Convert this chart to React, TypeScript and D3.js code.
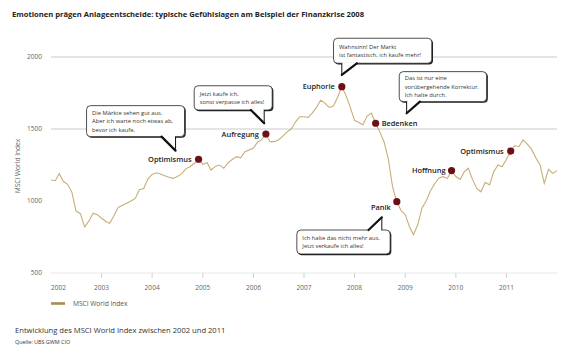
import React from 'react';
import * as d3 from 'd3';

// MSCI World Index, monthly, Jan 2002 .. Jan 2012
const msciValues = [
  1146, 1141, 1190, 1135, 1116, 1060, 930, 912, 820, 860, 915, 905,
  880, 858, 845, 900, 955, 970, 985, 1000, 1018, 1078, 1087, 1152,
  1185, 1196, 1188, 1175, 1165, 1157, 1170, 1188, 1225, 1238, 1262, 1290,
  1255, 1266, 1215, 1240, 1250, 1227, 1265, 1288, 1308, 1300, 1342, 1355,
  1368, 1410, 1424, 1465, 1412, 1412, 1424, 1450, 1480, 1500, 1550, 1585,
  1585, 1580, 1610, 1650, 1700, 1680, 1650, 1660, 1720, 1794, 1730, 1650,
  1560, 1545, 1530, 1590, 1610, 1540, 1480, 1410, 1290, 1100, 995, 935,
  905, 820, 766, 835, 950, 1000, 1070, 1120, 1160, 1169, 1157, 1211,
  1170, 1150, 1200, 1227, 1150, 1087, 1064, 1130, 1111, 1203, 1250, 1238,
  1290, 1347, 1385, 1377, 1424, 1395, 1360, 1300, 1250, 1123, 1220, 1192,
  1211,
];
const months = msciValues.map((_, i) => new Date(2002, i, 1));

const yearTicks = ['2002', '2003', '2004', '2005', '2006', '2007', '2008', '2009', '2010', '2011'];
const yTicks = [500, 1000, 1500, 2000];
const gridValues = [1500, 2000];

// moods: month index on the series + label
const moodIndex = [35, 51, 69, 77, 82, 95, 109];
const moodLabels = ['Optimismus', 'Aufregung', 'Euphorie', 'Bedenken', 'Panik', 'Hoffnung', 'Optimismus'];
const quoteLines: (string[] | null)[] = [
  ['Die Märkte sehen gut aus.', 'Aber ich warte noch etwas ab,', 'bevor ich kaufe.'],
  ['Jetzt kaufe ich,', 'sonst verpasse ich alles!'],
  ['Wahnsinn! Der Markt', 'ist fantastisch, ich kaufe mehr!'],
  ['Das ist nur eine', 'vorübergehende Korrektur.', 'Ich halte durch.'],
  ['Ich halte das nicht mehr aus.', 'Jetzt verkaufe ich alles!'],
  null,
  null,
];

// layout of labels and bubbles, relative to each dot
const labelLayout = [
  { dx: -7, dy: 0, anchor: 'end' },
  { dx: -7, dy: 0, anchor: 'end' },
  { dx: -7, dy: 0, anchor: 'end' },
  { dx: 6, dy: 0, anchor: 'start' },
  { dx: -16, dy: 6, anchor: 'middle' },
  { dx: -6, dy: 0, anchor: 'end' },
  { dx: -7, dy: 0, anchor: 'end' },
];
const bubbleLayout = [
  { bx: -112, by: -53.6, w: 98, h: 31, diagX: -37, vertX: -23, tipY: -8.6 },
  { bx: -71.7, by: -48.3, w: 78, h: 24.3, diagX: -15, vertX: -1.7, tipY: -10.7 },
  { bx: -8.3, by: -48.4, w: 98.3, h: 25, diagX: 15, vertX: 0, tipY: -11.7 },
  { bx: 23.6, by: -51.6, w: 87.4, h: 30, diagX: 44.3, vertX: 31, tipY: -10 },
  { bx: -100, by: 28.3, w: 93.3, h: 24, diagX: -28.3, vertX: -15, tipY: 15.6 },
];

const W = 580;
const H = 358;
const font = '"Open Sans", "DejaVu Sans", sans-serif';

export default function App() {
  const x = d3.scaleTime().domain([new Date(2002, 0, 1), new Date(2012, 0, 1)]).range([51, 557]);
  const y = d3.scaleLinear().domain([500, 2000]).range([273, 57]);
  const line = d3.line<number>().x((_, i) => x(months[i])).y((d) => y(d));

  return (
    <svg width={W} height={H} style={{ position: 'absolute', left: 0, top: 0, background: '#fff' }} fontFamily={font}>
      <text x={12} y={17} fontSize={7.6} fontWeight={700} fill="#222">
        Emotionen prägen Anlageentscheide: typische Gefühlslagen am Beispiel der Finanzkrise 2008
      </text>

      {gridValues.map((v) => (
        <line key={v} x1={51} x2={557} y1={y(v)} y2={y(v)} stroke="#bdbdbd" strokeWidth={0.8} />
      ))}
      <line x1={51} x2={557} y1={y(500)} y2={y(500)} stroke="#e2e2e2" strokeWidth={0.8} />
      {yearTicks.slice(1).map((t) => {
        const xx = x(new Date(+t, 0, 1));
        return <line key={t} x1={xx} x2={xx} y1={y(500)} y2={y(500) + 5} stroke="#c8c8c8" strokeWidth={0.8} />;
      })}
      {yTicks.map((v) => (
        <text key={v} x={42} y={y(v) + 2.3} fontSize={6.6} textAnchor="end" fill="#666">{v}</text>
      ))}
      {yearTicks.map((t, i) => (
        <text key={t} x={i === 0 ? 51 : x(new Date(+t, 0, 1))} y={289.5} fontSize={6.6}
          textAnchor={i === 0 ? 'start' : 'middle'} fill="#666">{t}</text>
      ))}
      <text transform={`translate(20,166) rotate(-90)`} fontSize={6.6} textAnchor="middle" fill="#666">MSCI World Index</text>

      <path d={line(msciValues) || ''} fill="none" stroke="#c9ad78" strokeWidth={1.1} />

      {bubbleLayout.map((b, k) => {
        const px = x(months[moodIndex[k]]);
        const py = y(msciValues[moodIndex[k]]);
        const left = px + b.bx;
        const top = py + b.by;
        const below = b.tipY > 0;
        const baseY = below ? top : top + b.h;
        const tipX = px + b.vertX;
        const tipY = py + b.tipY;
        const lines = quoteLines[k] || [];
        const step = lines.length === 3 ? 8.4 : 7.6;
        const firstY = top + b.h / 2 - ((lines.length - 1) * step) / 2 + 2.1;
        return (
          <g key={k}>
            <rect x={left + 1.2} y={top + 1.2} width={b.w} height={b.h} rx={4} fill="#222" />
            <rect x={left} y={top} width={b.w} height={b.h} rx={4} fill="#fff" stroke="#222" strokeWidth={0.8} />
            <polygon points={`${px + b.diagX},${baseY} ${tipX},${tipY} ${tipX},${baseY}`} fill="#fff" stroke="none" />
            <rect x={Math.min(px + b.diagX, tipX) + 0.6} y={below ? baseY - 1 : baseY - 1} width={Math.abs(b.diagX - b.vertX) - 1.2} height={3} fill="#fff" />
            <line x1={px + b.diagX} y1={baseY} x2={tipX} y2={tipY} stroke="#111" strokeWidth={2.2} strokeLinecap="round" />
            <line x1={tipX} y1={baseY} x2={tipX} y2={tipY} stroke="#111" strokeWidth={1} />
            {lines.map((s, j) => (
              <text key={j} x={left + 5.5} y={firstY + j * step} fontSize={5.8} fill="#333">{s}</text>
            ))}
          </g>
        );
      })}

      {moodIndex.map((mi, k) => {
        const px = x(months[mi]);
        const py = y(msciValues[mi]);
        const l = labelLayout[k];
        return (
          <g key={k}>
            <circle cx={px} cy={py} r={3.6} fill="#6d1015" />
            <text x={px + l.dx} y={py + l.dy + 2.6} fontSize={7.4} fontWeight={600}
              textAnchor={l.anchor} fill="#222">{moodLabels[k]}</text>
          </g>
        );
      })}

      <line x1={51} x2={65} y1={303.5} y2={303.5} stroke="#a98c4e" strokeWidth={2.6} />
      <text x={73} y={306} fontSize={6.6} fill="#555">MSCI World Index</text>

      <text x={15} y={333} fontSize={7.6} fill="#333">Entwicklung des MSCI World Index zwischen 2002 und 2011</text>
      <text x={15} y={344} fontSize={5.4} fill="#333">Quelle: UBS GWM CIO</text>
    </svg>
  );
}
